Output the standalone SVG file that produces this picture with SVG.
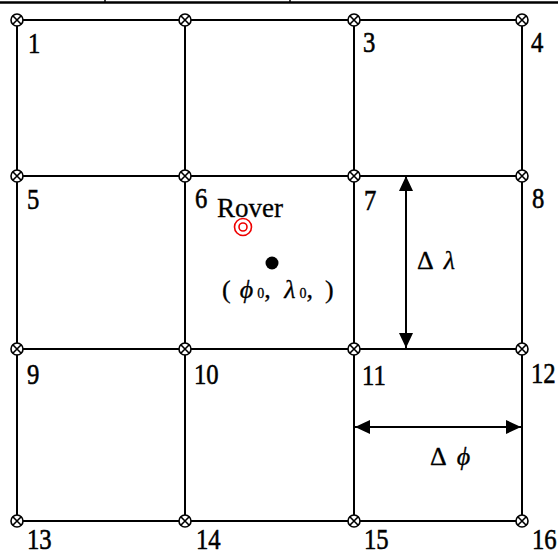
<svg xmlns="http://www.w3.org/2000/svg" width="558" height="555" viewBox="0 0 558 555">
<defs>
<style>
.g{stroke:#000;stroke-width:2;fill:none}
.lbl{font-family:"Liberation Serif",serif;font-size:26px;fill:#000;stroke:#000;stroke-width:0.5}
.t{font-family:"Liberation Serif",serif;fill:#000;stroke:#000;stroke-width:0.3}
.ar{stroke:#000;stroke-width:2;fill:none}
</style>
<g id="m">
<circle r="6" fill="#fff" stroke="#000" stroke-width="1.6"/>
<path d="M-4.2,-4.2L4.2,4.2M-4.2,4.2L4.2,-4.2" stroke="#000" stroke-width="1.6"/>
</g>
<marker id="ah" viewBox="0 0 15 14" refX="15" refY="7" markerWidth="15" markerHeight="14" markerUnits="userSpaceOnUse" orient="auto-start-reverse">
<path d="M0,0L15,7L0,14Z" fill="#000"/>
</marker>
</defs>
<rect width="558" height="555" fill="#fff"/>
<g id="frame">
<line x1="0" y1="2.5" x2="558" y2="2.5" stroke="#000" stroke-width="2.5"/>
<line x1="105" y1="0" x2="105" y2="3" stroke="#000" stroke-width="1.5"/>
<line x1="290" y1="0" x2="290" y2="3" stroke="#000" stroke-width="1.5"/>
</g>
<g id="connectors">
<path class="g" d="M17,20H522M17,176H522M17,349H522M17,521H522M17,20V521M185,20V521M354,20V521M522,20V521"/>
<line class="ar" x1="406" y1="176" x2="406" y2="348" marker-start="url(#ah)" marker-end="url(#ah)"/>
<line class="ar" x1="355" y1="427" x2="521" y2="427" marker-start="url(#ah)" marker-end="url(#ah)"/>
</g>
<g id="n1"><use href="#m" x="17" y="20"/><text class="lbl" transform="translate(28 53) scale(0.95 1.15)">1</text></g>
<g id="n2"><use href="#m" x="185" y="20"/></g>
<g id="n3"><use href="#m" x="354" y="20"/><text class="lbl" transform="translate(363 52) scale(0.95 1.15)">3</text></g>
<g id="n4"><use href="#m" x="522" y="20"/><text class="lbl" transform="translate(531 52) scale(0.95 1.15)">4</text></g>
<g id="n5"><use href="#m" x="17" y="176"/><text class="lbl" transform="translate(27 209) scale(0.95 1.15)">5</text></g>
<g id="n6"><use href="#m" x="185" y="176"/><text class="lbl" transform="translate(195 208) scale(0.95 1.15)">6</text></g>
<g id="n7"><use href="#m" x="354" y="176"/><text class="lbl" transform="translate(364 210) scale(0.95 1.15)">7</text></g>
<g id="n8"><use href="#m" x="522" y="176"/><text class="lbl" transform="translate(532 208) scale(0.95 1.15)">8</text></g>
<g id="n9"><use href="#m" x="17" y="349"/><text class="lbl" transform="translate(27 384) scale(0.95 1.15)">9</text></g>
<g id="n10"><use href="#m" x="185" y="349"/><text class="lbl" transform="translate(194 384) scale(0.95 1.15)">10</text></g>
<g id="n11"><use href="#m" x="354" y="349"/><text class="lbl" transform="translate(362 385) scale(0.95 1.15)">11</text></g>
<g id="n12"><use href="#m" x="522" y="349"/><text class="lbl" transform="translate(531 383) scale(0.95 1.15)">12</text></g>
<g id="n13"><use href="#m" x="17" y="521"/><text class="lbl" transform="translate(27 549) scale(0.95 1.15)">13</text></g>
<g id="n14"><use href="#m" x="185" y="521"/><text class="lbl" transform="translate(196 549) scale(0.95 1.15)">14</text></g>
<g id="n15"><use href="#m" x="354" y="521"/><text class="lbl" transform="translate(364 549) scale(0.95 1.15)">15</text></g>
<g id="n16"><use href="#m" x="522" y="521"/><text class="lbl" transform="translate(532 549) scale(0.95 1.15)">16</text></g>
<g id="rover">
<text class="t" x="217" y="217" font-size="27">Rover</text>
<circle cx="243" cy="227" r="8.5" fill="none" stroke="#e00" stroke-width="1.6"/>
<circle cx="243" cy="227" r="4" fill="none" stroke="#e00" stroke-width="1.6"/>
</g>
<g id="point">
<circle cx="272" cy="263" r="6.5" fill="#000"/>
<text class="t" x="222" y="298" font-size="26">(<tspan dx="9" font-style="italic">ϕ</tspan><tspan dx="4" font-size="14">0</tspan>, <tspan dx="7" font-style="italic">λ</tspan><tspan dx="4" font-size="14">0</tspan>,<tspan dx="12">)</tspan></text>
</g>
<g id="dlambda"><text class="t" x="417" y="269" font-size="26">Δ<tspan dx="10" font-style="italic">λ</tspan></text></g>
<g id="dphi"><text class="t" x="430" y="465" font-size="26">Δ<tspan dx="10" font-style="italic">ϕ</tspan></text></g>
</svg>
